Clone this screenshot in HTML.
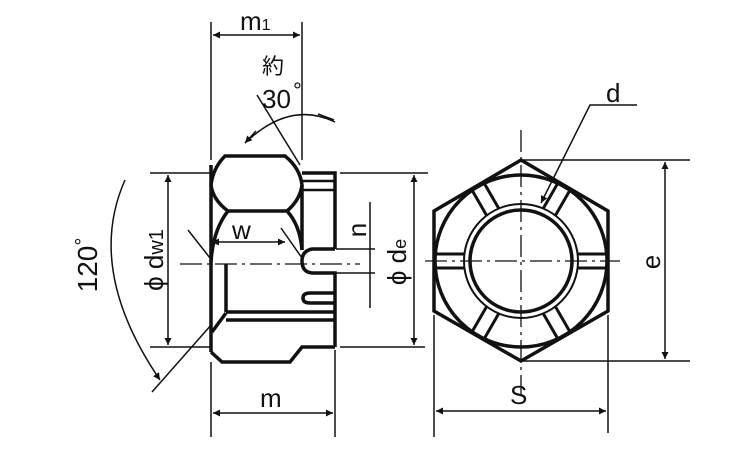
<!DOCTYPE html>
<html><head><meta charset="utf-8"><style>
html,body{margin:0;padding:0;background:#fff;}
svg{display:block;}
text{font-family:"Liberation Sans","Noto Sans CJK JP",sans-serif;fill:#111;}
</style></head><body>
<svg width="750" height="450" viewBox="0 0 750 450" xmlns="http://www.w3.org/2000/svg">
<defs>
<marker id="a" viewBox="0 0 10 10" refX="10" refY="5" markerWidth="14" markerHeight="7" markerUnits="userSpaceOnUse" orient="auto-start-reverse">
<path d="M0,0 L10,5 L0,10 z" fill="#111"/></marker>
</defs>
<g stroke="#111" fill="none">
<g stroke-width="3.5">
<path d="M225,156 L285,156 Q300,168 302,185 Q300,200 287,211 L228,211 Q213,200 211,185 Q213,168 225,156 Z"/>
<path d="M228,211 Q213,230 211,262"/>
<path d="M287,211 Q300,225 302,250"/>
<line x1="211" y1="165" x2="211" y2="352"/>
<path d="M211,352 L222,362 L290,362 L302,347 L335,347"/>
<path d="M302,185 L302,250"/>
<path d="M302,173 L335,173 L335,249"/>
<path d="M335,249 L312,249 Q302,251 302,261 Q302,272 312,273 L335,273 L335,347"/>
<line x1="226" y1="264" x2="226" y2="312"/>
<line x1="226" y1="312" x2="335" y2="312"/>
<line x1="226" y1="320" x2="335" y2="320"/>
<line x1="212" y1="332" x2="226" y2="313"/>
<path d="M335,293 L310,293 Q303,293 303,298 Q303,303 310,303 L335,303"/>
</g>
<g stroke-width="2.5">
<line x1="302" y1="181" x2="335" y2="181"/>
<line x1="302" y1="190" x2="335" y2="190"/>
</g>
<line x1="180" y1="264" x2="360" y2="264" stroke-width="1.3" stroke-dasharray="22,5,3,5"/>
<g stroke-width="1.5">
<line x1="211" y1="22" x2="211" y2="160"/>
<line x1="302" y1="22" x2="302" y2="160"/>
<line x1="213" y1="35" x2="300" y2="35" marker-start="url(#a)" marker-end="url(#a)"/>
<line x1="257" y1="95" x2="300" y2="165"/>
<path d="M245,143 Q290,100 335,122" />
<path d="M256,131 L245,143" marker-end="url(#a)"/>
<path d="M318,114 L334,120" />
<line x1="150" y1="173" x2="210" y2="173"/>
<line x1="150" y1="347" x2="210" y2="347"/>
<line x1="168" y1="175" x2="168" y2="345" marker-start="url(#a)" marker-end="url(#a)"/>
<line x1="340" y1="173" x2="428" y2="173"/>
<line x1="340" y1="347" x2="425" y2="347"/>
<line x1="414" y1="175" x2="414" y2="345" marker-start="url(#a)" marker-end="url(#a)"/>
<line x1="336" y1="249" x2="375" y2="249"/>
<line x1="336" y1="273" x2="375" y2="273"/>
<line x1="370" y1="202" x2="370" y2="308"/>
<line x1="212" y1="242" x2="285" y2="242" marker-start="url(#a)" marker-end="url(#a)"/>
<line x1="188" y1="230" x2="210" y2="258"/>
<line x1="281" y1="228" x2="302" y2="258"/>
<line x1="152" y1="392" x2="212" y2="324"/>
<path d="M125,180 Q85,270 160,380" marker-end="url(#a)"/>
<line x1="211" y1="362" x2="211" y2="437"/>
<line x1="335" y1="350" x2="335" y2="437"/>
<line x1="213" y1="413" x2="333" y2="413" marker-start="url(#a)" marker-end="url(#a)"/>
</g>
<g stroke-width="3.5">
<polygon points="521,160 608,211 608,311 521,361 434,311 434,211"/>
<circle cx="521" cy="261" r="86"/>
<circle cx="521" cy="261" r="51"/>
</g>
<circle cx="521" cy="261" r="57" stroke-width="2"/>
<g stroke-width="3">
<g id="sl"><line x1="578" y1="254" x2="606" y2="254"/><line x1="578" y1="268" x2="606" y2="268"/></g>
<use href="#sl" transform="rotate(60 521 261)"/>
<use href="#sl" transform="rotate(120 521 261)"/>
<use href="#sl" transform="rotate(180 521 261)"/>
<use href="#sl" transform="rotate(240 521 261)"/>
<use href="#sl" transform="rotate(300 521 261)"/>
</g>
<g stroke-width="1.3" stroke-dasharray="22,5,3,5">
<line x1="425" y1="261" x2="620" y2="261"/>
<line x1="521" y1="130" x2="521" y2="395"/>
</g>
<g stroke-width="1.5">
<line x1="521" y1="160" x2="690" y2="160"/>
<line x1="521" y1="361" x2="690" y2="361"/>
<line x1="665" y1="162" x2="665" y2="359" marker-start="url(#a)" marker-end="url(#a)"/>
<line x1="434" y1="315" x2="434" y2="437"/>
<line x1="608" y1="315" x2="608" y2="433"/>
<line x1="436" y1="411" x2="606" y2="411" marker-start="url(#a)" marker-end="url(#a)"/>
<polyline points="637,105 590,105 541,203" marker-end="url(#a)"/>
</g>
</g>
<text x="240" y="30" font-size="26">m<tspan font-size="16">1</tspan></text>
<text x="262" y="74" font-size="22">約</text>
<text x="262" y="108" font-size="26">30</text>
<text x="293" y="98" font-size="22">°</text>
<text x="232" y="239" font-size="26">w</text>
<text x="260" y="407" font-size="26">m</text>
<text x="510" y="404" font-size="26">S</text>
<text x="606" y="102" font-size="26">d</text>
<text transform="translate(660,262) rotate(-90)" font-size="26" text-anchor="middle">e</text>
<text transform="translate(366,230) rotate(-90)" font-size="26" text-anchor="middle">n</text>
<text transform="translate(406,262) rotate(-90)" font-size="26" text-anchor="middle">ϕ d<tspan font-size="18">e</tspan></text>
<text transform="translate(163,260) rotate(-90)" font-size="26" text-anchor="middle">ϕ d<tspan font-size="20">w1</tspan></text>
<text transform="translate(97,265) rotate(-90)" font-size="28" text-anchor="middle">120<tspan font-size="20" dy="-8">°</tspan></text>
</svg>
</body></html>
